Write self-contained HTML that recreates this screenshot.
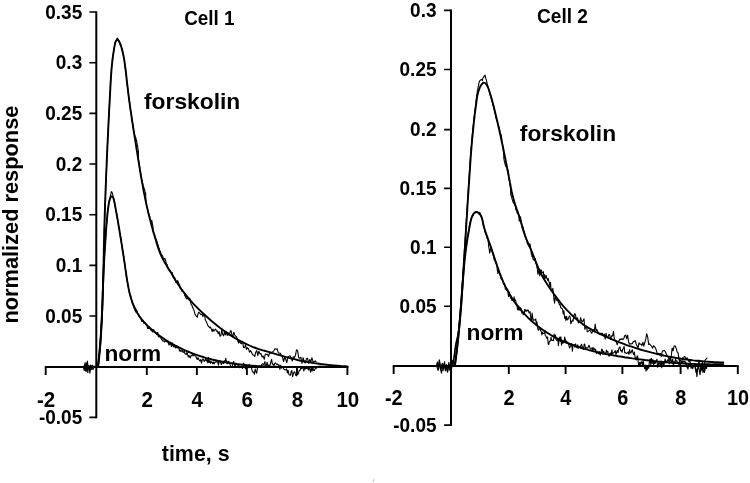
<!DOCTYPE html>
<html><head><meta charset="utf-8"><title>Figure</title>
<style>html,body{margin:0;padding:0;background:#fff}svg{display:block}</style></head>
<body>
<svg width="750" height="483" viewBox="0 0 750 483">
<rect width="750" height="483" fill="#fff"/>
<rect x="373" y="479" width="1" height="3" fill="#c8c8c8"/>
<g fill="none" stroke="#000" stroke-width="1.8" stroke-linecap="butt">
<path stroke-width="2" d="M44.8,367.0 H348.3 M96.3,11.2 V418.2"/>
<path stroke-width="1.9" d="M45.7,367.0 v7.9 M146.8,367.0 v7.9 M196.85,367.0 v7.9 M246.9,367.0 v7.9 M297.0,367.0 v7.9 M347.4,367.0 v7.9 "/>
<path stroke-width="1.6" d="M96.3,12.05 h-6.9 M96.3,62.72 h-6.9 M96.3,113.39 h-6.9 M96.3,164.06 h-6.9 M96.3,214.73 h-6.9 M96.3,265.40 h-6.9 M96.3,316.07 h-6.9 M96.3,366.74 h-6.9 M96.3,417.41 h-6.9 "/>
<path stroke-width="2" d="M392.8,366.0 H738.7 M451.0,9.5 V425.9"/>
<path stroke-width="1.9" d="M393.65,366.0 v7.9 M508.8,366.0 v7.9 M565.6,366.0 v7.9 M622.4,366.0 v7.9 M680.6,366.0 v7.9 M737.8,366.0 v7.9 "/>
<path stroke-width="1.6" d="M451.0,10.40 h-6.9 M451.0,69.50 h-6.9 M451.0,129.60 h-6.9 M451.0,188.35 h-6.9 M451.0,247.30 h-6.9 M451.0,306.30 h-6.9 M451.0,365.90 h-6.9 M451.0,425.10 h-6.9 "/>
</g>
<g fill="none" stroke="#000" stroke-linejoin="round" stroke-linecap="round">
<path stroke-width="1.1" d="M83.3,367.0 L84.3,370.5 L85.1,362.5 L86.2,371.4 L87.3,361.0 L88.3,367.8 L89.0,365.5 L89.8,373.1 L91.0,367.3 L92.0,365.3 L93.0,369.6 L94.0,366.7 L94.8,366.1 L96.0,366.7 L97.2,366.5 L97.9,367.3 L98.0,365.6 L98.2,364.7 L98.3,363.6 L98.4,362.8 L98.5,361.6 L98.6,360.7 L98.8,358.8 L98.9,358.7 L99.0,357.1 L99.1,356.2 L99.2,355.0 L99.3,353.8 L99.4,352.9 L99.5,352.0 L99.6,350.6 L99.7,349.3 L99.8,348.4 L99.9,346.8 L100.0,345.3 L100.1,344.8 L100.2,343.4 L100.3,341.8 L100.4,341.1 L100.4,340.0 L100.5,338.8 L100.6,337.5 L100.7,336.9 L100.8,336.2 L100.8,334.8 L100.9,333.5 L101.0,332.9 L101.1,331.9 L101.1,330.3 L101.2,329.5 L101.3,328.4 L101.3,326.9 L101.4,325.7 L101.5,325.1 L101.5,324.0 L101.6,323.0 L101.6,321.2 L101.7,320.3 L101.8,319.0 L101.8,317.5 L101.9,317.2 L101.9,316.1 L102.0,314.5 L102.0,314.1 L102.1,312.8 L102.1,311.5 L102.2,310.1 L102.2,309.2 L102.3,307.5 L102.3,306.9 L102.4,305.8 L102.4,303.9 L102.5,303.5 L102.5,302.2 L102.5,301.5 L102.6,300.0 L102.6,299.0 L102.6,298.0 L102.7,296.5 L102.7,295.8 L102.8,294.6 L102.8,293.7 L102.8,292.3 L102.9,291.6 L102.9,290.2 L102.9,288.9 L103.0,288.0 L103.0,287.1 L103.0,286.2 L103.1,284.3 L103.1,283.8 L103.1,282.5 L103.1,281.2 L103.2,279.7 L103.2,279.3 L103.2,277.4 L103.3,277.0 L103.3,276.1 L103.3,274.0 L103.3,273.3 L103.4,271.9 L103.4,271.2 L103.4,270.5 L103.4,269.5 L103.5,267.1 L103.5,266.2 L103.5,265.3 L103.5,264.4 L103.6,263.1 L103.6,261.7 L103.6,260.8 L103.6,259.9 L103.6,258.8 L103.7,257.4 L103.7,256.8 L103.7,255.9 L103.7,254.4 L103.8,253.1 L103.8,251.7 L103.8,250.8 L103.8,250.1 L103.9,248.6 L103.9,247.2 L103.9,247.2 L103.9,245.6 L104.0,244.9 L104.0,243.1 L104.0,242.1 L104.0,240.7 L104.1,240.6 L104.1,239.9 L104.1,237.9 L104.2,236.5 L104.2,235.6 L104.2,233.9 L104.2,232.8 L104.3,231.6 L104.3,230.8 L104.3,230.0 L104.4,228.7 L104.4,228.0 L104.4,226.4 L104.4,225.6 L104.5,223.7 L104.5,222.8 L104.5,222.3 L104.6,220.6 L104.6,219.8 L104.6,218.8 L104.7,217.9 L104.7,216.7 L104.7,215.9 L104.8,214.6 L104.8,213.1 L104.9,211.9 L104.9,210.9 L104.9,209.5 L105.0,208.5 L105.0,207.4 L105.0,206.4 L105.1,205.2 L105.1,203.6 L105.1,203.2 L105.2,202.3 L105.2,201.7 L105.3,200.3 L105.3,198.8 L105.3,197.8 L105.4,197.5 L105.4,195.8 L105.5,195.1 L105.5,194.2 L105.5,192.0 L105.6,191.3 L105.6,190.1 L105.7,188.9 L105.7,187.7 L105.7,186.4 L105.8,185.1 L105.8,183.4 L105.9,182.7 L105.9,181.2 L106.0,180.4 L106.0,179.2 L106.1,178.5 L106.1,177.5 L106.1,176.3 L106.2,175.2 L106.2,174.3 L106.3,173.0 L106.3,172.1 L106.4,170.8 L106.4,170.0 L106.5,168.7 L106.5,167.6 L106.6,165.9 L106.6,165.5 L106.6,163.9 L106.7,162.7 L106.7,162.0 L106.8,160.6 L106.8,159.8 L106.9,158.4 L106.9,157.2 L107.0,156.0 L107.0,155.7 L107.1,154.2 L107.1,152.6 L107.2,151.8 L107.2,150.0 L107.3,150.0 L107.3,147.6 L107.4,147.2 L107.4,146.1 L107.5,144.5 L107.5,144.0 L107.6,143.3 L107.6,142.2 L107.7,140.9 L107.7,139.7 L107.8,138.3 L107.9,137.2 L107.9,135.9 L108.0,135.3 L108.0,133.7 L108.1,133.5 L108.1,132.1 L108.2,130.7 L108.2,129.9 L108.3,129.6 L108.3,128.0 L108.4,126.2 L108.4,125.5 L108.5,123.8 L108.5,122.6 L108.6,121.6 L108.7,119.7 L108.7,119.5 L108.8,118.0 L108.8,117.1 L108.9,115.6 L108.9,114.5 L109.0,113.4 L109.0,113.0 L109.1,112.0 L109.2,110.4 L109.2,109.5 L109.3,107.9 L109.3,106.1 L109.4,105.8 L109.4,104.8 L109.5,103.3 L109.6,102.5 L109.6,101.5 L109.7,99.9 L109.7,98.4 L109.8,97.8 L109.8,97.0 L109.9,96.0 L110.0,95.4 L110.0,94.5 L110.1,92.8 L110.1,91.9 L110.2,90.7 L110.3,89.5 L110.3,88.6 L110.4,86.9 L110.4,86.4 L110.5,85.9 L110.6,84.4 L110.6,82.9 L110.7,82.3 L110.7,81.2 L110.8,79.6 L110.9,78.2 L111.0,77.6 L111.0,75.5 L111.1,75.2 L111.2,74.0 L111.3,72.5 L111.4,72.4 L111.4,71.0 L111.5,69.4 L111.6,68.8 L111.7,67.2 L111.8,65.6 L111.9,65.0 L112.1,64.0 L112.2,63.1 L112.3,61.8 L112.4,60.6 L112.5,59.4 L112.7,58.1 L112.8,57.3 L113.0,55.7 L113.1,54.4 L113.3,53.7 L113.5,52.0 L113.6,51.1 L113.8,51.0 L114.0,49.6 L114.2,48.1 L114.4,47.1 L114.6,45.7 L114.8,44.6 L115.1,43.2 L115.3,42.4 L115.7,40.7 L116.2,40.6 L116.8,39.0 L117.5,38.2 L118.1,39.2 L118.6,40.2 L119.1,41.4 L119.6,41.7 L120.0,43.1 L120.4,45.3 L120.8,44.3 L121.2,46.2 L121.5,47.3 L121.8,48.5 L122.1,48.7 L122.4,50.1 L122.7,51.9 L122.9,52.8 L123.2,54.9 L123.4,55.2 L123.6,56.6 L123.8,58.8 L124.0,58.4 L124.2,59.2 L124.4,60.8 L124.5,61.9 L124.7,63.6 L124.8,64.4 L125.0,64.9 L125.1,66.0 L125.3,68.4 L125.4,69.0 L125.6,68.4 L125.7,70.6 L125.8,71.7 L126.0,73.3 L126.1,73.7 L126.2,75.6 L126.4,76.6 L126.5,77.9 L126.6,78.6 L126.7,79.9 L126.9,81.5 L127.0,82.8 L127.1,83.4 L127.2,84.1 L127.4,86.1 L127.5,86.4 L127.6,87.6 L127.7,88.5 L127.9,89.5 L128.0,90.6 L128.1,91.0 L128.3,93.8 L128.4,94.7 L128.5,95.5 L128.7,96.8 L128.8,97.4 L129.0,98.4 L129.1,98.4 L129.3,100.4 L129.4,102.0 L129.6,103.6 L129.7,104.8 L129.9,105.6 L130.0,105.7 L130.2,106.4 L130.3,108.8 L130.5,109.7 L130.6,111.1 L130.8,111.8 L131.0,113.0 L131.1,113.0 L131.3,115.0 L131.5,115.8 L131.6,117.3 L131.8,118.5 L131.9,119.6 L132.1,120.8 L132.3,121.8 L132.5,123.1 L132.6,123.9 L132.8,124.8 L133.0,125.6 L133.1,127.8 L133.3,128.2 L133.5,130.0 L133.7,130.7 L134.0,131.7 L134.3,132.9 L134.6,134.4 L134.9,135.8 L135.3,136.9 L135.6,137.1 L135.9,138.3 L136.2,139.5 L136.4,141.1 L136.7,140.6 L136.9,142.9 L137.1,143.5 L137.3,145.3 L137.6,146.0 L137.8,147.5 L138.0,149.5 L138.2,150.1 L138.4,151.1 L138.4,152.1 L138.4,152.4 L138.4,153.8 L138.4,154.5 L138.5,155.4 L138.5,156.8 L138.5,157.8 L138.5,159.8 L138.6,160.6 L138.8,161.6 L138.9,163.6 L139.1,164.4 L139.2,165.4 L139.4,166.1 L139.6,166.7 L139.7,167.7 L139.9,169.1 L140.1,170.9 L140.2,171.4 L140.4,171.7 L140.6,173.5 L140.8,173.8 L141.0,175.5 L141.2,176.0 L141.4,177.2 L141.7,179.1 L141.9,179.9 L142.1,180.3 L142.4,182.7 L142.6,184.4 L142.9,183.8 L143.2,186.7 L143.6,186.4 L143.9,187.8 L144.3,189.0 L144.7,189.4 L145.0,192.0 L145.4,192.7 L145.7,192.9 L145.7,194.2 L145.7,194.8 L145.7,196.4 L145.7,197.9 L145.8,197.6 L145.8,199.4 L146.0,200.8 L146.2,202.5 L146.4,204.5 L146.6,204.9 L146.8,206.0 L147.0,207.7 L147.3,208.0 L147.5,208.9 L147.7,210.6 L147.9,211.8 L148.2,212.0 L148.4,213.1 L148.7,214.4 L148.9,214.1 L149.3,216.2 L149.7,216.7 L150.2,219.5 L150.6,219.9 L151.0,220.4 L151.4,221.2 L151.9,220.7 L152.3,223.6 L152.7,225.2 L152.8,225.2 L152.9,227.2 L153.0,228.6 L153.1,228.6 L153.2,230.9 L153.3,232.4 L153.5,232.6 L153.9,233.3 L154.2,234.7 L154.6,234.3 L154.9,236.3 L155.2,238.5 L155.6,237.8 L155.9,240.4 L156.3,240.6 L156.6,240.0 L157.0,242.3 L157.3,242.8 L157.7,245.1 L158.1,244.9 L158.6,248.5 L159.1,248.0 L159.5,250.6 L160.0,250.7 L160.5,252.2 L161.1,254.3 L161.6,254.9 L162.2,255.3 L162.7,255.8 L163.1,258.8 L163.5,258.9 L164.0,258.1 L164.5,259.1 L165.0,258.7 L165.4,259.8 L165.9,261.3 L166.3,264.1 L166.7,264.9 L167.2,264.5 L167.6,267.0 L168.0,267.5 L168.5,268.1 L168.9,269.8 L169.4,269.3 L170.0,270.1 L170.6,272.2 L171.2,272.1 L171.8,274.1 L172.3,272.6 L172.9,276.7 L173.5,275.9 L174.1,277.9 L174.7,277.5 L175.3,280.9 L175.9,282.7 L176.5,281.7 L177.1,282.4 L177.7,280.6 L178.3,282.2 L178.9,284.0 L179.6,284.7 L180.2,288.6 L180.8,288.3 L181.5,289.7 L182.1,291.6 L182.8,290.6 L183.4,292.0 L184.1,292.6 L184.8,295.6 L185.4,296.5 L186.1,298.1 L186.8,299.0 L187.5,296.7 L188.3,298.4 L189.0,299.9 L189.7,298.2 L190.4,301.5 L191.2,304.6 L191.9,305.3 L192.7,307.6 L193.4,309.1 L194.2,310.9 L195.0,314.5 L195.7,315.0 L196.5,316.4 L197.3,317.1 L198.1,313.3 L198.9,312.2 L199.7,313.1 L200.5,314.5 L201.3,314.3 L202.1,314.5 L202.9,316.6 L203.7,313.8 L204.6,315.9 L205.4,320.2 L206.2,321.5 L207.1,323.4 L207.9,325.7 L208.7,326.5 L209.6,327.8 L210.4,327.0 L211.3,328.9 L212.1,331.7 L213.0,329.0 L213.8,331.2 L214.7,329.8 L215.6,329.0 L216.5,331.2 L217.3,330.8 L218.2,333.7 L219.1,331.5 L220.0,336.3 L220.9,335.3 L221.8,329.8 L222.7,334.4 L223.6,335.8 L224.5,332.0 L225.4,334.9 L226.3,331.5 L227.2,335.5 L228.1,332.5 L229.1,335.7 L230.0,332.1 L230.9,330.4 L231.9,334.6 L232.8,336.7 L233.8,332.2 L234.7,335.0 L235.7,336.2 L236.6,337.0 L237.6,340.3 L238.6,343.1 L239.5,340.7 L240.5,343.3 L241.5,343.7 L242.5,341.4 L243.5,347.3 L244.5,347.8 L245.5,344.7 L246.5,349.4 L247.5,347.7 L248.5,348.9 L249.5,352.2 L250.5,350.6 L251.6,352.5 L252.6,354.7 L253.6,355.0 L254.7,356.5 L255.7,352.3 L256.8,350.6 L257.8,355.6 L258.9,351.2 L260.0,353.9 L261.0,353.6 L262.1,357.0 L263.2,356.0 L264.3,359.3 L265.3,354.0 L266.4,354.5 L267.5,354.2 L268.6,356.4 L269.7,352.1 L270.7,353.5 L271.8,352.3 L272.9,351.7 L274.0,350.6 L275.0,348.8 L276.1,349.2 L277.2,348.8 L278.3,352.7 L279.3,353.3 L280.4,353.3 L281.5,355.5 L282.5,357.2 L283.6,361.5 L284.7,357.0 L285.7,359.3 L286.8,362.7 L287.9,356.7 L289.0,356.3 L290.0,355.8 L291.1,357.7 L292.2,361.0 L293.3,356.7 L294.4,357.6 L295.4,355.6 L296.5,349.8 L297.6,350.7 L298.7,357.8 L299.8,358.2 L300.9,357.3 L302.0,363.4 L303.1,357.7 L304.2,362.2 L305.3,363.0 L306.4,358.8 L307.5,358.2 L308.6,363.1 L309.7,359.5 L310.8,361.8 L311.9,357.7 L313.0,361.7 L314.1,361.8 L315.2,360.8 L316.3,362.1"/>
<path stroke-width="1.1" d="M83.8,367.0 L84.6,364.6 L85.6,371.0 L86.6,363.1 L87.8,372.6 L88.8,365.6 L89.6,370.3 L90.6,365.0 L91.6,369.4 L92.6,365.2 L93.6,367.4 L94.8,366.6 L96.0,367.1 L97.2,366.5 L98.0,366.9 L98.1,365.8 L98.2,365.0 L98.3,364.5 L98.4,364.0 L98.5,362.8 L98.6,362.2 L98.6,361.5 L98.7,361.1 L98.8,360.2 L98.9,359.6 L99.0,359.5 L99.1,358.2 L99.1,357.7 L99.2,356.4 L99.3,356.2 L99.4,355.1 L99.4,354.4 L99.5,353.7 L99.6,352.7 L99.7,352.0 L99.7,351.3 L99.8,351.1 L99.9,350.2 L99.9,348.9 L100.0,348.7 L100.0,347.6 L100.1,347.1 L100.2,346.1 L100.2,345.0 L100.3,344.8 L100.3,344.1 L100.4,342.9 L100.5,342.1 L100.5,341.8 L100.6,341.0 L100.6,340.3 L100.7,339.7 L100.7,339.2 L100.8,337.9 L100.8,337.7 L100.9,336.8 L100.9,335.7 L101.0,334.6 L101.0,334.8 L101.1,333.9 L101.1,333.8 L101.1,332.8 L101.2,331.7 L101.2,331.3 L101.3,329.8 L101.3,329.4 L101.4,328.5 L101.4,328.2 L101.4,327.1 L101.5,325.2 L101.5,325.8 L101.5,324.3 L101.6,324.3 L101.6,323.1 L101.6,322.6 L101.7,322.1 L101.7,321.3 L101.8,320.2 L101.8,320.3 L101.8,319.4 L101.8,318.6 L101.9,318.1 L101.9,316.9 L101.9,316.7 L102.0,315.4 L102.0,314.7 L102.0,314.0 L102.1,313.0 L102.1,312.2 L102.1,311.9 L102.1,311.1 L102.2,310.5 L102.2,309.4 L102.2,308.2 L102.3,307.9 L102.3,307.2 L102.3,306.6 L102.3,305.7 L102.4,304.3 L102.4,304.2 L102.4,302.9 L102.4,302.5 L102.5,301.2 L102.5,301.2 L102.5,300.0 L102.5,300.1 L102.6,299.6 L102.6,298.7 L102.6,297.0 L102.6,296.5 L102.7,295.6 L102.7,295.3 L102.7,294.5 L102.7,294.0 L102.8,293.2 L102.8,292.4 L102.8,291.9 L102.8,291.5 L102.9,290.0 L102.9,289.6 L102.9,288.3 L102.9,287.6 L103.0,287.1 L103.0,286.2 L103.0,285.7 L103.0,285.2 L103.1,283.9 L103.1,283.1 L103.1,282.4 L103.2,281.9 L103.2,281.0 L103.2,280.7 L103.2,280.0 L103.3,279.3 L103.3,278.6 L103.3,277.5 L103.4,276.8 L103.4,276.4 L103.4,275.1 L103.5,274.9 L103.5,273.8 L103.5,272.9 L103.6,272.2 L103.6,271.3 L103.6,270.7 L103.7,270.1 L103.7,269.2 L103.7,269.0 L103.8,267.7 L103.8,267.2 L103.9,266.0 L103.9,265.6 L103.9,264.5 L104.0,264.2 L104.0,264.2 L104.1,263.0 L104.1,262.1 L104.1,261.2 L104.2,260.4 L104.2,259.0 L104.3,258.3 L104.3,258.2 L104.3,257.4 L104.4,256.4 L104.4,255.6 L104.5,254.9 L104.5,254.1 L104.6,253.2 L104.6,252.3 L104.7,252.2 L104.7,250.9 L104.8,250.4 L104.8,249.8 L104.9,249.0 L104.9,248.5 L104.9,247.5 L105.0,247.1 L105.0,245.9 L105.1,245.1 L105.1,244.9 L105.2,244.0 L105.2,242.6 L105.3,242.1 L105.3,241.4 L105.4,240.7 L105.4,240.6 L105.5,239.5 L105.5,239.1 L105.6,238.3 L105.6,237.4 L105.7,236.2 L105.7,236.2 L105.8,235.4 L105.8,234.5 L105.9,233.7 L105.9,232.9 L106.0,231.9 L106.0,231.5 L106.1,230.0 L106.1,229.8 L106.2,228.7 L106.2,228.3 L106.3,228.0 L106.3,227.1 L106.4,226.4 L106.4,225.9 L106.5,224.5 L106.6,223.7 L106.6,222.8 L106.7,222.6 L106.7,221.5 L106.8,221.1 L106.9,219.9 L106.9,220.0 L107.0,218.8 L107.1,218.7 L107.1,217.4 L107.2,217.5 L107.3,215.3 L107.4,215.5 L107.4,214.6 L107.5,212.9 L107.6,212.9 L107.7,212.6 L107.7,211.8 L107.8,210.5 L107.9,210.2 L108.0,209.4 L108.1,208.8 L108.2,208.0 L108.3,208.1 L108.4,206.6 L108.5,205.7 L108.6,204.8 L108.7,204.6 L108.8,203.6 L108.9,202.4 L109.1,202.3 L109.3,200.7 L109.5,200.3 L109.7,199.4 L109.9,198.4 L110.2,196.5 L110.5,195.4 L110.8,194.2 L111.2,192.2 L111.7,191.7 L112.2,192.9 L112.6,194.1 L113.0,195.8 L113.3,197.8 L113.6,198.4 L113.8,199.8 L114.0,199.1 L114.1,200.2 L114.3,201.6 L114.4,202.4 L114.6,202.9 L114.7,204.1 L114.8,205.1 L115.0,205.6 L115.1,206.8 L115.3,207.1 L115.4,207.9 L115.6,208.9 L115.7,209.7 L115.8,209.1 L116.0,210.4 L116.1,211.4 L116.2,211.1 L116.4,211.7 L116.5,213.3 L116.6,213.7 L116.8,214.4 L116.9,215.1 L117.0,215.5 L117.1,218.3 L117.3,217.2 L117.4,218.2 L117.5,218.7 L117.7,220.0 L117.8,221.4 L117.9,221.2 L118.0,222.3 L118.2,222.5 L118.3,224.4 L118.4,224.2 L118.5,224.6 L118.7,226.2 L118.8,226.2 L118.9,227.4 L119.0,228.1 L119.1,228.8 L119.3,229.5 L119.4,230.1 L119.5,230.5 L119.6,232.6 L119.7,232.9 L119.9,233.6 L120.0,233.6 L120.1,233.5 L120.2,234.3 L120.3,236.2 L120.5,236.2 L120.6,237.2 L120.7,237.2 L120.8,238.4 L120.9,239.0 L121.1,239.7 L121.2,240.8 L121.3,241.6 L121.4,242.4 L121.5,243.4 L121.6,244.5 L121.8,245.1 L121.9,246.6 L122.0,246.4 L122.1,247.0 L122.2,247.1 L122.3,248.5 L122.4,248.5 L122.6,249.2 L122.7,250.5 L122.8,251.8 L122.9,251.6 L123.0,253.1 L123.1,253.1 L123.2,253.0 L123.3,254.6 L123.5,256.5 L123.6,256.2 L123.7,256.6 L123.8,258.3 L123.9,259.4 L124.0,260.2 L124.1,260.1 L124.2,261.3 L124.4,262.0 L124.5,263.2 L124.6,264.2 L124.7,263.8 L124.8,265.1 L124.9,265.1 L125.0,266.4 L125.1,266.1 L125.2,267.2 L125.3,268.5 L125.4,268.9 L125.6,270.7 L125.7,270.8 L125.8,271.6 L125.9,272.7 L126.0,273.2 L126.1,274.0 L126.2,275.2 L126.3,277.1 L126.4,275.4 L126.5,276.9 L126.7,277.2 L126.8,277.8 L126.9,279.3 L127.0,279.2 L127.1,280.4 L127.2,281.9 L127.4,280.9 L127.5,282.7 L127.6,283.8 L127.7,283.4 L127.9,285.0 L128.0,285.3 L128.1,285.7 L128.3,286.9 L128.4,286.5 L128.6,288.3 L128.7,288.9 L128.9,289.4 L129.0,290.8 L129.2,291.7 L129.4,293.2 L129.5,292.5 L129.7,293.6 L129.9,294.2 L130.1,295.8 L130.3,294.8 L130.5,296.5 L130.7,295.9 L130.9,297.9 L131.1,298.1 L131.3,299.3 L131.5,299.7 L131.7,299.8 L132.0,300.9 L132.2,303.3 L132.5,303.4 L132.7,303.7 L133.0,305.1 L133.2,304.5 L133.5,305.1 L133.8,305.4 L134.1,307.3 L134.4,308.9 L134.7,308.1 L135.0,309.7 L135.3,310.7 L135.6,312.0 L136.0,309.4 L136.3,311.5 L136.7,312.0 L137.0,310.8 L137.4,313.0 L137.8,313.4 L138.1,314.5 L138.5,314.4 L138.9,315.9 L139.4,315.8 L139.8,317.4 L140.2,317.6 L140.6,318.4 L141.1,318.4 L141.5,321.0 L142.0,321.4 L142.5,321.5 L143.0,320.7 L143.4,321.3 L143.9,323.3 L144.4,322.7 L144.9,322.5 L145.4,323.6 L146.0,324.6 L146.5,325.1 L147.0,325.5 L147.5,328.3 L148.1,328.4 L148.6,328.4 L149.2,327.6 L149.7,328.4 L150.3,329.1 L150.8,330.2 L151.4,329.7 L151.9,331.1 L152.5,331.8 L153.1,331.0 L153.7,329.5 L154.2,331.6 L154.8,331.9 L155.4,332.7 L156.0,333.5 L156.6,334.6 L157.2,332.8 L157.8,332.5 L158.4,336.8 L159.0,335.7 L159.6,336.4 L160.2,337.8 L160.8,337.1 L161.5,339.5 L162.1,339.7 L162.7,340.9 L163.3,340.8 L163.9,341.1 L164.6,342.0 L165.2,340.7 L165.8,341.3 L166.5,341.6 L167.1,340.6 L167.8,342.4 L168.4,343.2 L169.0,345.0 L169.7,344.2 L170.3,342.2 L171.0,345.2 L171.6,346.6 L172.3,342.9 L173.0,345.2 L173.6,346.9 L174.3,345.3 L174.9,346.9 L175.6,348.0 L176.2,345.9 L176.9,347.7 L177.6,347.9 L178.2,346.5 L178.9,348.5 L179.6,351.0 L180.2,350.1 L180.9,351.5 L181.6,351.1 L182.2,350.5 L182.9,352.2 L183.6,352.3 L184.3,351.0 L184.9,353.7 L185.6,354.1 L186.3,354.5 L187.0,352.1 L187.7,354.5 L188.3,357.0 L189.0,355.4 L189.7,357.1 L190.4,357.9 L191.1,355.4 L191.8,355.4 L192.4,354.7 L193.1,355.9 L193.8,354.6 L194.5,354.6 L195.2,355.9 L195.9,356.3 L196.6,358.4 L197.3,359.5 L198.0,357.6 L198.7,359.0 L199.4,360.5 L200.1,361.0 L200.8,359.5 L201.5,363.1 L202.2,360.4 L202.9,358.8 L203.6,360.1 L204.3,361.5 L205.0,360.6 L205.7,357.8 L206.4,361.0 L207.1,359.8 L207.8,363.0 L208.5,357.2 L209.2,362.6 L209.9,360.6 L210.6,363.3 L211.4,361.6 L212.1,362.3 L212.8,363.9 L213.5,361.9 L214.2,363.8 L214.9,362.5 L215.6,362.0 L216.4,361.9 L217.1,361.7 L217.8,362.4 L218.5,365.2 L219.2,361.7 L219.9,360.4 L220.7,362.8 L221.4,364.6 L222.1,362.3 L222.8,363.1 L223.6,363.6 L224.3,360.8 L225.0,362.0 L225.7,358.3 L226.5,361.1 L227.2,363.9 L227.9,361.5 L228.6,361.3 L229.4,362.2 L230.1,364.9 L230.8,366.3 L231.6,367.4 L232.3,366.1 L233.0,362.8 L233.7,361.6 L234.5,365.2 L235.2,367.4 L235.9,363.0 L236.7,364.4 L237.4,364.7 L238.2,365.5 L238.9,365.6 L239.6,367.7 L240.4,367.3 L241.1,366.0 L241.8,366.8 L242.6,368.5 L243.3,363.3 L244.0,363.8 L244.8,366.5 L245.5,368.9 L246.3,366.2 L247.0,367.9 L247.7,366.2 L248.5,367.7 L249.2,364.4 L250.0,366.2 L250.7,366.7 L251.5,368.0 L252.2,371.2 L252.9,372.3 L253.7,372.0 L254.4,374.3 L255.2,369.1 L255.9,371.4 L256.7,373.2 L257.4,368.4 L258.2,367.3 L258.9,366.0 L259.6,367.5 L260.4,366.2 L261.1,366.2 L261.9,364.3 L262.6,363.7 L263.4,364.4 L264.1,364.0 L264.9,361.6 L265.6,367.5 L266.4,364.9 L267.1,362.2 L267.9,365.9 L268.6,365.1 L269.4,365.5 L270.1,365.1 L270.9,361.9 L271.6,359.4 L272.4,364.2 L273.1,364.1 L273.9,365.8 L274.6,363.7 L275.4,362.9 L276.1,363.9 L276.9,364.4 L277.6,364.0 L278.4,365.3 L279.1,364.9 L279.9,369.5 L280.6,365.2 L281.4,368.1 L282.1,367.3 L282.9,367.3 L283.6,368.8 L284.4,369.6 L285.1,369.9 L285.9,369.8 L286.6,368.8 L287.4,372.9 L288.1,370.2 L288.9,374.5 L289.6,374.9 L290.4,375.3 L291.1,371.5 L291.9,370.6 L292.6,376.7 L293.4,374.2 L294.1,371.8 L294.9,372.0 L295.6,375.0 L296.4,375.8 L297.1,374.1 L297.9,374.7 L298.6,372.6 L299.4,370.3 L300.1,370.3 L300.9,367.2 L301.6,368.7 L302.4,366.9 L303.1,368.4 L303.9,371.0 L304.6,368.0 L305.4,369.0 L306.1,367.8 L306.9,368.5 L307.6,367.1 L308.4,370.0 L309.1,368.2 L309.8,369.1 L310.6,372.2 L311.3,366.7 L312.1,371.2 L312.8,367.3 L313.6,370.4 L314.3,370.5 L315.1,368.7 L315.8,368.1 L316.6,368.3"/>
<path stroke-width="1.1" d="M436.2,366.0 L437.5,361.9 L438.6,369.2 L439.6,360.9 L440.8,369.7 L441.9,363.8 L443.0,371.0 L444.2,363.6 L445.3,370.5 L446.4,364.8 L447.4,372.0 L448.6,364.4 L449.6,370.2 L450.6,363.5 L451.6,369.1 L452.4,361.0 L453.0,365.0 L452.4,365.8 L452.6,364.7 L452.7,364.3 L452.9,363.2 L453.0,362.0 L453.2,361.5 L453.3,360.0 L453.5,358.9 L453.6,358.2 L453.8,357.4 L453.9,356.1 L454.1,355.3 L454.2,354.2 L454.4,353.3 L454.5,352.5 L454.6,350.6 L454.8,349.9 L454.9,348.8 L455.0,348.1 L455.2,347.3 L455.3,345.9 L455.4,344.9 L455.7,344.2 L455.9,342.6 L456.1,341.8 L456.3,341.0 L456.5,340.3 L456.7,339.4 L456.9,338.3 L457.2,338.1 L457.4,336.4 L457.6,335.4 L457.8,334.9 L458.0,333.5 L458.2,332.3 L458.4,331.2 L458.6,330.2 L458.7,328.7 L458.8,328.2 L458.9,326.7 L459.0,326.2 L459.1,324.8 L459.2,323.9 L459.2,322.7 L459.3,322.4 L459.4,320.7 L459.5,319.9 L459.6,318.7 L459.7,317.8 L459.8,317.0 L459.9,315.9 L459.9,315.4 L460.0,313.6 L460.1,313.5 L460.2,313.1 L460.3,311.0 L460.3,310.2 L460.4,308.7 L460.5,308.0 L460.6,306.2 L460.6,306.0 L460.7,304.7 L460.8,303.3 L460.9,302.5 L461.0,301.6 L461.0,301.2 L461.1,300.7 L461.2,299.4 L461.2,298.1 L461.3,297.1 L461.4,296.3 L461.5,294.5 L461.5,294.4 L461.6,293.4 L461.7,291.4 L461.7,291.6 L461.8,289.6 L461.9,289.1 L462.0,288.7 L462.0,286.8 L462.1,285.9 L462.2,284.9 L462.2,283.8 L462.3,282.9 L462.4,281.8 L462.4,280.8 L462.5,279.9 L462.6,279.1 L462.6,278.2 L462.7,277.4 L462.8,276.4 L462.8,274.9 L462.9,274.8 L463.0,272.4 L463.0,272.3 L463.1,270.6 L463.2,270.1 L463.2,269.1 L463.3,268.2 L463.4,267.5 L463.4,265.8 L463.5,266.2 L463.5,264.4 L463.6,263.1 L463.7,261.7 L463.7,261.8 L463.8,260.6 L463.9,259.1 L463.9,258.2 L464.0,257.7 L464.1,256.3 L464.1,255.1 L464.2,254.0 L464.3,253.4 L464.3,252.0 L464.4,250.6 L464.4,250.3 L464.5,248.5 L464.6,247.9 L464.6,247.7 L464.7,246.4 L464.8,245.1 L464.8,244.0 L464.9,243.4 L465.0,242.0 L465.0,240.3 L465.1,240.1 L465.1,238.0 L465.2,237.2 L465.3,237.4 L465.3,236.0 L465.4,234.6 L465.5,233.6 L465.5,232.8 L465.6,232.2 L465.6,230.6 L465.7,229.3 L465.8,228.3 L465.8,227.6 L465.9,226.8 L466.0,225.7 L466.0,225.6 L466.1,224.1 L466.1,223.4 L466.2,222.1 L466.3,221.0 L466.3,220.5 L466.4,218.8 L466.5,217.6 L466.5,217.0 L466.6,215.4 L466.6,214.8 L466.7,214.2 L466.8,213.0 L466.8,211.2 L466.9,210.7 L467.0,210.8 L467.0,208.9 L467.1,208.6 L467.1,207.8 L467.2,205.7 L467.3,205.8 L467.3,204.7 L467.4,203.8 L467.5,203.1 L467.5,201.7 L467.6,200.2 L467.7,199.4 L467.7,198.1 L467.8,197.4 L467.8,195.5 L467.9,196.2 L468.0,194.3 L468.0,193.7 L468.1,192.5 L468.2,191.4 L468.2,190.2 L468.3,189.0 L468.4,187.6 L468.4,187.1 L468.5,186.9 L468.5,185.0 L468.6,184.0 L468.7,184.0 L468.7,182.5 L468.8,181.4 L468.9,179.9 L468.9,178.9 L469.0,178.4 L469.1,177.4 L469.1,176.1 L469.2,174.5 L469.3,173.9 L469.3,172.5 L469.4,172.6 L469.5,171.0 L469.5,170.0 L469.6,169.0 L469.7,168.0 L469.7,167.0 L469.8,165.4 L469.9,164.3 L469.9,164.7 L470.0,162.4 L470.1,161.7 L470.2,160.3 L470.2,159.2 L470.3,158.4 L470.4,157.8 L470.4,156.1 L470.5,155.9 L470.6,154.7 L470.7,154.3 L470.7,152.3 L470.8,151.8 L470.9,151.0 L471.0,149.0 L471.1,148.6 L471.1,147.7 L471.2,146.5 L471.3,146.0 L471.4,145.7 L471.5,144.9 L471.6,143.6 L471.6,142.5 L471.7,141.6 L471.8,140.7 L471.9,139.3 L472.0,138.2 L472.1,137.5 L472.2,135.3 L472.3,134.6 L472.4,133.3 L472.5,133.7 L472.6,131.7 L472.7,131.5 L472.8,130.5 L472.9,128.4 L473.0,127.7 L473.1,126.7 L473.2,126.0 L473.3,124.3 L473.4,124.3 L473.5,123.6 L473.6,122.4 L473.7,121.6 L473.8,120.9 L473.9,119.3 L474.0,117.9 L474.2,116.6 L474.3,116.1 L474.4,114.9 L474.5,114.3 L474.6,113.2 L474.8,112.7 L474.9,110.8 L475.0,110.2 L475.1,109.3 L475.3,108.5 L475.4,107.7 L475.5,106.3 L475.7,105.5 L475.8,104.6 L476.0,102.6 L476.1,100.5 L476.3,99.2 L476.4,98.8 L476.5,97.0 L476.7,96.1 L476.9,94.7 L477.0,94.2 L477.2,92.7 L477.4,90.6 L477.6,90.2 L477.9,88.6 L478.2,86.6 L478.5,86.0 L478.8,83.6 L479.2,82.0 L479.6,81.1 L480.0,80.5 L480.5,80.1 L481.0,79.6 L481.6,79.4 L482.3,80.5 L482.9,78.2 L483.6,77.1 L484.4,75.9 L485.1,75.2 L485.7,78.2 L486.3,79.6 L486.8,81.9 L487.3,84.3 L487.7,86.1 L488.1,86.9 L488.4,87.6 L488.7,89.9 L489.1,91.3 L489.4,92.0 L489.7,93.1 L490.0,94.2 L490.3,95.6 L490.6,96.6 L490.9,96.6 L491.2,98.0 L491.5,99.8 L491.7,100.2 L492.0,100.7 L492.3,102.1 L492.5,103.3 L492.8,104.5 L493.0,104.2 L493.3,106.3 L493.5,106.5 L493.8,108.1 L494.0,109.7 L494.3,109.7 L494.5,110.7 L494.7,112.1 L495.0,113.5 L495.2,113.7 L495.4,114.2 L495.6,115.4 L495.9,117.1 L496.1,118.6 L496.3,118.2 L496.5,119.4 L496.8,120.5 L497.1,121.0 L497.4,121.3 L497.7,122.9 L497.9,124.1 L498.2,124.9 L498.5,126.4 L498.8,126.6 L499.1,127.5 L499.4,128.4 L499.7,130.7 L499.9,131.9 L500.2,132.3 L500.5,134.2 L500.8,134.0 L501.0,134.8 L501.2,134.8 L501.4,136.7 L501.5,137.4 L501.7,138.7 L501.9,140.6 L502.0,141.4 L502.2,141.8 L502.3,143.4 L502.5,144.5 L502.6,145.1 L502.8,146.5 L503.0,147.1 L503.1,148.0 L503.3,150.5 L503.4,151.4 L503.5,151.4 L503.6,151.5 L503.6,153.1 L503.7,154.8 L503.8,155.9 L503.8,158.5 L503.9,157.5 L504.0,158.6 L504.0,159.0 L504.1,160.3 L504.3,161.0 L504.6,161.9 L505.0,164.2 L505.3,164.5 L505.6,166.1 L505.9,164.6 L506.2,166.0 L506.5,167.7 L506.8,166.2 L507.1,167.5 L507.4,170.6 L507.6,170.8 L507.8,169.7 L508.0,171.8 L508.2,172.8 L508.4,174.6 L508.6,177.6 L508.8,177.0 L509.0,180.1 L509.2,178.6 L509.4,179.2 L509.6,182.6 L509.8,183.1 L510.0,184.7 L510.2,186.5 L510.3,186.1 L510.4,186.7 L510.4,184.6 L510.4,186.6 L510.5,188.7 L510.5,189.9 L510.6,191.3 L510.7,191.0 L510.7,193.7 L510.8,195.2 L510.9,194.4 L511.3,195.9 L511.7,197.1 L512.0,198.7 L512.4,200.0 L512.8,201.0 L513.2,202.7 L513.6,203.1 L514.1,201.6 L514.5,204.4 L514.9,204.9 L515.3,206.4 L515.6,206.8 L515.9,209.5 L516.2,210.3 L516.6,209.5 L516.9,211.9 L517.2,212.9 L517.6,213.3 L517.9,212.1 L518.2,213.2 L518.5,215.1 L518.9,214.9 L519.2,221.2 L519.5,217.9 L519.8,217.7 L520.1,220.0 L520.4,218.8 L520.6,216.8 L520.9,220.5 L521.2,221.2 L521.5,224.0 L521.7,224.1 L522.0,226.1 L522.3,228.2 L522.5,227.9 L522.8,226.2 L523.1,227.6 L523.4,228.5 L523.7,230.6 L524.0,231.8 L524.3,231.7 L524.6,235.7 L525.0,234.1 L525.3,236.7 L525.7,236.1 L526.1,239.0 L526.5,239.9 L526.9,240.9 L527.3,243.4 L527.7,244.4 L528.1,244.7 L528.5,245.4 L528.9,244.2 L529.3,246.9 L529.7,243.7 L530.1,244.1 L530.5,247.3 L530.9,249.7 L531.3,253.9 L531.7,254.5 L532.0,256.7 L532.4,255.4 L532.8,257.7 L533.2,259.8 L533.5,259.7 L533.9,260.0 L534.3,260.6 L534.6,258.7 L535.0,259.7 L535.4,258.6 L535.7,263.1 L536.1,263.9 L536.5,264.6 L536.9,267.7 L537.2,267.6 L537.6,271.8 L538.0,274.3 L538.4,272.3 L538.8,270.2 L539.3,269.1 L539.7,275.8 L540.1,273.3 L540.6,269.9 L541.0,274.3 L541.5,270.0 L541.9,273.3 L542.4,272.5 L542.9,272.5 L543.4,271.7 L543.9,279.2 L544.4,274.6 L545.0,278.1 L545.5,278.1 L546.0,275.2 L546.6,277.6 L547.1,278.8 L547.7,280.4 L548.2,278.3 L548.8,281.4 L549.4,282.5 L549.9,286.7 L550.5,282.4 L551.1,290.8 L551.7,290.2 L552.2,291.0 L552.8,288.3 L553.4,293.6 L554.0,299.6 L554.6,303.2 L555.2,297.0 L555.8,296.6 L556.4,299.9 L557.0,300.5 L557.6,299.9 L558.2,301.8 L558.8,303.1 L559.4,304.8 L560.0,304.2 L560.7,307.7 L561.3,308.0 L562.0,308.5 L562.6,309.2 L563.2,313.9 L563.9,310.7 L564.6,318.3 L565.2,316.2 L565.9,320.4 L566.6,316.3 L567.3,319.9 L568.0,319.3 L568.7,317.6 L569.4,315.9 L570.1,316.8 L570.8,323.8 L571.5,322.3 L572.3,320.1 L573.0,321.1 L573.7,317.0 L574.5,313.7 L575.2,314.1 L576.0,317.2 L576.8,319.0 L577.6,317.9 L578.3,322.9 L579.1,321.7 L579.9,321.7 L580.7,317.5 L581.5,321.0 L582.3,321.7 L583.2,320.6 L584.0,318.8 L584.8,329.2 L585.7,327.3 L586.5,326.5 L587.3,331.8 L588.2,331.3 L589.1,330.6 L589.9,330.2 L590.8,331.7 L591.7,333.2 L592.5,331.6 L593.4,329.5 L594.3,331.8 L595.2,324.1 L596.1,330.8 L597.0,329.7 L597.9,332.0 L598.8,332.7 L599.7,334.3 L600.6,333.2 L601.5,333.2 L602.4,333.4 L603.4,335.8 L604.3,334.1 L605.2,339.2 L606.1,333.2 L607.0,337.7 L607.9,337.3 L608.9,334.3 L609.8,335.2 L610.7,339.5 L611.6,335.8 L612.6,336.0 L613.5,331.2 L614.4,339.7 L615.4,340.2 L616.3,342.1 L617.2,344.8 L618.2,341.4 L619.1,340.8 L620.0,338.9 L621.0,339.7 L621.9,338.7 L622.9,339.6 L623.8,338.7 L624.7,335.6 L625.7,335.0 L626.6,338.6 L627.6,335.2 L628.5,341.7 L629.5,344.3 L630.4,343.8 L631.4,343.9 L632.3,343.8 L633.3,341.5 L634.2,341.6 L635.2,340.7 L636.2,344.0 L637.1,346.0 L638.1,348.2 L639.0,342.8 L640.0,344.2 L641.0,344.0 L641.9,345.6 L642.9,342.2 L643.8,346.2 L644.8,342.6 L645.8,338.9 L646.7,333.7 L647.7,337.1 L648.7,344.7 L649.6,343.9 L650.6,345.3 L651.6,346.2 L652.6,348.2 L653.5,345.7 L654.5,346.7 L655.5,348.0 L656.5,350.9 L657.4,354.6 L658.4,353.3 L659.4,354.0 L660.4,353.5 L661.3,356.5 L662.3,351.1 L663.3,350.7 L664.3,350.4 L665.3,351.8 L666.2,353.7 L667.2,356.1 L668.2,356.6 L669.2,360.7 L670.2,357.2 L671.2,357.1 L672.1,348.0 L673.1,350.8 L674.1,346.0 L675.1,345.8 L676.1,347.9 L677.1,351.8 L678.1,352.9 L679.1,360.0 L680.1,359.9 L681.0,361.5 L682.0,360.6 L683.0,357.2 L684.0,357.0 L685.0,356.6 L686.0,359.6 L687.0,357.7 L688.0,359.7 L689.0,361.8 L690.0,360.2 L691.0,368.3 L692.0,364.6 L693.0,367.1 L694.0,366.0 L695.0,364.8 L696.0,372.4 L697.0,369.0 L698.0,367.2 L699.0,368.7 L700.0,374.8 L701.0,366.5 L702.0,366.0 L703.0,372.5 L704.0,369.7 L705.0,360.3 L706.0,359.1 L707.0,358.2"/>
<path stroke-width="1.1" d="M436.8,366.5 L438.2,370.5 L439.3,359.9 L440.4,368.8 L441.5,373.1 L442.6,363.3 L443.6,368.7 L444.6,361.7 L445.7,371.0 L446.7,364.5 L447.7,372.2 L448.8,362.2 L449.8,368.9 L450.8,361.7 L451.8,367.0 L452.6,360.6 L453.2,364.0 L452.9,365.6 L453.0,365.5 L453.1,364.9 L453.2,363.7 L453.3,363.1 L453.4,363.1 L453.5,361.5 L453.6,361.2 L453.7,360.9 L453.8,359.8 L454.0,359.1 L454.1,358.2 L454.2,357.5 L454.3,357.0 L454.4,356.6 L454.5,356.1 L454.6,355.1 L454.7,355.0 L454.8,353.8 L454.9,352.8 L455.0,352.9 L455.1,351.6 L455.1,350.5 L455.2,350.2 L455.3,349.3 L455.4,349.1 L455.5,348.6 L455.6,347.7 L455.7,346.7 L455.8,346.0 L455.9,345.3 L456.0,344.9 L456.2,343.7 L456.3,343.0 L456.4,342.9 L456.6,342.0 L456.7,341.3 L456.8,340.9 L457.0,339.9 L457.1,339.3 L457.2,338.9 L457.3,337.9 L457.5,337.4 L457.6,336.8 L457.7,336.1 L457.9,336.2 L458.0,334.3 L458.1,333.8 L458.3,333.5 L458.4,332.2 L458.5,331.7 L458.6,330.5 L458.8,330.5 L458.9,330.1 L458.9,329.3 L459.0,328.3 L459.1,327.6 L459.1,326.7 L459.2,326.3 L459.3,325.3 L459.3,324.9 L459.4,323.6 L459.4,323.3 L459.5,321.8 L459.6,322.3 L459.6,321.9 L459.7,320.9 L459.8,321.3 L459.8,319.3 L459.9,318.5 L459.9,317.6 L460.0,316.8 L460.1,316.0 L460.1,315.1 L460.2,314.8 L460.2,315.2 L460.3,314.1 L460.3,313.7 L460.4,312.4 L460.5,312.1 L460.5,311.7 L460.6,310.6 L460.6,309.9 L460.7,309.1 L460.7,308.5 L460.8,308.2 L460.8,307.6 L460.9,305.8 L461.0,304.9 L461.0,304.8 L461.1,304.1 L461.1,303.8 L461.2,303.5 L461.2,302.4 L461.3,302.8 L461.3,301.3 L461.4,299.7 L461.4,299.9 L461.5,298.9 L461.5,298.1 L461.6,296.8 L461.6,296.7 L461.7,295.8 L461.7,294.9 L461.8,294.6 L461.8,294.1 L461.9,293.4 L461.9,292.9 L461.9,291.8 L462.0,291.9 L462.0,290.8 L462.1,290.5 L462.1,289.4 L462.2,288.1 L462.2,286.8 L462.3,286.8 L462.3,285.7 L462.4,285.4 L462.4,285.3 L462.5,283.8 L462.5,283.2 L462.6,283.4 L462.6,282.6 L462.7,281.4 L462.7,280.5 L462.8,279.4 L462.8,279.0 L462.9,278.0 L462.9,277.7 L463.0,277.2 L463.0,276.0 L463.1,275.8 L463.1,275.2 L463.2,275.0 L463.2,274.6 L463.3,273.3 L463.3,272.8 L463.4,272.0 L463.5,270.7 L463.5,270.2 L463.6,270.0 L463.6,269.5 L463.7,268.8 L463.8,268.4 L463.8,266.4 L463.9,266.0 L463.9,264.6 L464.0,264.2 L464.1,263.2 L464.1,263.6 L464.2,262.5 L464.3,261.2 L464.3,261.3 L464.4,261.1 L464.5,260.8 L464.5,260.1 L464.6,259.2 L464.7,258.4 L464.8,257.9 L464.8,257.3 L464.9,256.3 L465.0,255.3 L465.1,255.6 L465.1,254.2 L465.2,253.6 L465.3,253.2 L465.4,252.1 L465.5,252.1 L465.6,250.3 L465.6,250.3 L465.7,248.6 L465.8,248.0 L465.9,247.4 L466.0,247.5 L466.1,246.5 L466.2,245.6 L466.3,246.0 L466.4,244.3 L466.5,243.9 L466.6,243.4 L466.7,242.5 L466.8,242.0 L466.9,241.5 L467.0,240.3 L467.1,240.1 L467.2,238.5 L467.3,237.6 L467.5,237.4 L467.6,236.4 L467.7,236.5 L467.8,235.6 L467.9,234.7 L468.0,234.6 L468.2,234.0 L468.3,231.7 L468.4,232.4 L468.5,232.0 L468.6,231.4 L468.8,230.1 L468.9,229.2 L469.0,229.0 L469.1,228.5 L469.2,226.4 L469.4,225.8 L469.5,225.4 L469.6,223.6 L469.7,224.0 L469.9,223.9 L470.0,222.4 L470.1,222.4 L470.3,221.4 L470.4,221.4 L470.6,221.1 L470.8,220.7 L470.9,219.3 L471.1,219.1 L471.4,218.0 L471.6,216.8 L471.9,217.0 L472.2,215.6 L472.5,215.3 L472.8,215.9 L473.2,214.4 L473.6,213.2 L474.1,213.2 L474.6,212.3 L475.1,212.5 L475.7,211.8 L476.2,212.5 L476.9,211.6 L477.5,212.7 L478.1,212.6 L478.6,213.1 L479.1,214.3 L479.6,212.3 L480.0,212.9 L480.4,214.0 L480.7,214.9 L481.0,216.5 L481.3,216.8 L481.5,217.5 L481.8,217.7 L482.0,218.8 L482.1,219.3 L482.3,220.0 L482.5,219.9 L482.6,221.3 L482.8,222.5 L482.9,223.1 L483.0,223.1 L483.2,225.0 L483.3,225.6 L483.5,226.1 L483.7,225.8 L483.8,226.1 L484.0,228.0 L484.2,228.1 L484.4,228.7 L484.6,230.9 L484.8,231.5 L485.0,231.7 L485.2,232.7 L485.5,232.8 L485.7,232.0 L485.9,234.4 L486.1,234.5 L486.4,235.4 L486.6,236.7 L486.9,237.3 L487.1,238.5 L487.3,238.3 L487.6,238.5 L487.8,238.9 L488.0,241.0 L488.3,241.8 L488.5,244.5 L488.7,246.6 L489.0,248.3 L489.2,248.9 L489.4,251.1 L489.7,253.3 L489.9,251.1 L490.1,251.9 L490.3,249.7 L490.6,249.6 L490.8,247.0 L491.0,247.7 L491.2,248.4 L491.4,249.6 L491.6,250.6 L491.9,250.7 L492.1,249.9 L492.3,252.1 L492.5,252.4 L492.7,252.8 L492.9,254.3 L493.2,255.6 L493.4,255.0 L493.6,256.8 L493.8,257.8 L494.0,256.6 L494.2,259.9 L494.5,259.7 L494.7,258.9 L494.9,260.5 L495.1,260.2 L495.3,261.8 L495.5,262.2 L495.8,261.9 L496.0,263.5 L496.2,263.6 L496.4,263.4 L496.6,263.6 L496.9,265.1 L497.1,266.4 L497.3,270.5 L497.5,269.9 L497.8,273.4 L498.0,272.4 L498.2,271.6 L498.5,272.5 L498.7,270.9 L498.9,272.5 L499.2,272.3 L499.4,273.2 L499.7,273.4 L499.9,274.7 L500.2,276.1 L500.4,275.3 L500.7,276.2 L500.9,278.4 L501.2,277.1 L501.4,279.5 L501.7,278.8 L501.9,279.1 L502.2,279.1 L502.5,280.5 L502.8,280.6 L503.0,281.5 L503.3,284.3 L503.6,284.1 L503.9,284.2 L504.2,284.0 L504.5,285.2 L504.7,285.0 L505.0,285.5 L505.3,289.1 L505.7,287.7 L506.0,287.2 L506.3,288.8 L506.6,290.4 L506.9,288.8 L507.2,289.8 L507.6,289.1 L507.9,290.1 L508.2,294.1 L508.6,296.8 L508.9,292.6 L509.3,292.2 L509.6,295.8 L510.0,295.7 L510.3,296.4 L510.7,298.4 L511.1,296.1 L511.4,298.3 L511.8,300.3 L512.2,299.1 L512.6,300.4 L512.9,299.6 L513.3,300.7 L513.7,299.5 L514.1,296.7 L514.5,301.2 L514.9,299.0 L515.3,300.5 L515.7,300.6 L516.2,304.8 L516.6,303.3 L517.0,305.2 L517.4,308.9 L517.8,309.7 L518.3,309.1 L518.7,305.9 L519.1,310.4 L519.6,308.3 L520.0,307.5 L520.5,309.6 L520.9,308.0 L521.4,309.8 L521.8,313.1 L522.3,312.9 L522.8,311.2 L523.2,314.7 L523.7,314.1 L524.2,314.1 L524.6,309.6 L525.1,309.7 L525.6,311.2 L526.1,309.9 L526.6,311.3 L527.1,311.1 L527.5,310.1 L528.0,309.9 L528.5,310.8 L529.0,313.0 L529.5,312.1 L530.1,311.7 L530.6,316.5 L531.1,320.0 L531.6,320.0 L532.1,313.0 L532.6,316.8 L533.1,320.4 L533.7,320.0 L534.2,319.7 L534.7,319.9 L535.3,320.2 L535.8,318.9 L536.3,325.2 L536.9,321.7 L537.4,325.5 L538.0,329.6 L538.5,330.3 L539.1,328.6 L539.6,329.0 L540.2,329.0 L540.7,330.8 L541.3,331.7 L541.9,335.0 L542.4,332.1 L543.0,333.5 L543.6,333.4 L544.1,333.2 L544.7,332.7 L545.3,335.5 L545.9,336.2 L546.4,337.2 L547.0,338.4 L547.6,337.0 L548.2,344.2 L548.8,344.4 L549.4,341.4 L549.9,341.4 L550.5,340.3 L551.1,337.3 L551.7,340.5 L552.3,340.5 L552.9,340.1 L553.5,340.7 L554.1,334.0 L554.8,337.9 L555.4,335.0 L556.0,339.5 L556.6,340.3 L557.2,340.5 L557.8,338.4 L558.4,345.6 L559.0,340.3 L559.7,337.0 L560.3,341.4 L560.9,336.9 L561.5,345.1 L562.2,341.5 L562.8,343.3 L563.4,342.8 L564.0,341.7 L564.7,337.1 L565.3,340.0 L565.9,342.3 L566.6,341.0 L567.2,343.3 L567.9,342.2 L568.5,343.3 L569.1,346.4 L569.8,347.9 L570.4,346.0 L571.1,345.5 L571.7,343.6 L572.4,351.3 L573.0,344.9 L573.7,345.3 L574.3,344.6 L575.0,347.3 L575.6,343.8 L576.3,346.8 L576.9,347.6 L577.6,344.8 L578.2,348.5 L578.9,346.1 L579.6,346.9 L580.2,348.1 L580.9,345.6 L581.5,344.2 L582.2,346.4 L582.9,348.9 L583.5,349.3 L584.2,344.0 L584.9,344.7 L585.5,349.2 L586.2,347.6 L586.9,347.9 L587.5,347.9 L588.2,347.2 L588.9,345.2 L589.5,346.5 L590.2,348.7 L590.9,349.3 L591.6,348.9 L592.2,347.6 L592.9,350.5 L593.6,347.8 L594.3,348.9 L594.9,350.3 L595.6,349.4 L596.3,353.3 L596.9,353.4 L597.6,352.2 L598.3,352.5 L599.0,354.0 L599.7,351.6 L600.3,355.1 L601.0,352.8 L601.7,349.0 L602.4,349.8 L603.0,354.5 L603.7,351.2 L604.4,353.9 L605.1,353.0 L605.8,354.5 L606.4,350.1 L607.1,352.1 L607.8,351.4 L608.5,355.0 L609.1,356.2 L609.8,353.4 L610.5,353.0 L611.2,354.7 L611.9,349.8 L612.5,353.8 L613.2,353.2 L613.9,352.6 L614.6,352.0 L615.3,350.7 L615.9,354.4 L616.6,352.7 L617.3,350.5 L618.0,352.6 L618.7,349.2 L619.3,347.3 L620.0,347.1 L620.7,350.8 L621.4,350.5 L622.1,352.3 L622.7,349.1 L623.4,348.6 L624.1,346.4 L624.8,353.0 L625.5,352.8 L626.1,353.0 L626.8,353.5 L627.5,352.8 L628.2,351.9 L628.9,354.3 L629.6,349.6 L630.2,352.5 L630.9,353.2 L631.6,351.1 L632.3,349.8 L633.0,352.7 L633.7,354.6 L634.3,352.0 L635.0,356.6 L635.7,359.6 L636.4,359.9 L637.1,355.9 L637.8,356.8 L638.4,364.1 L639.1,365.8 L639.8,362.2 L640.5,364.5 L641.2,361.8 L641.9,362.3 L642.5,364.9 L643.2,360.8 L643.9,365.6 L644.6,368.6 L645.3,365.0 L646.0,371.1 L646.6,366.3 L647.3,369.8 L648.0,366.0 L648.7,368.3 L649.4,361.6 L650.1,358.9 L650.8,364.7 L651.4,358.6 L652.1,363.3 L652.8,359.6 L653.5,364.7 L654.2,361.9 L654.9,363.7 L655.6,362.3 L656.2,361.6 L656.9,359.2 L657.6,367.3 L658.3,364.8 L659.0,361.6 L659.7,363.4 L660.4,366.0 L661.1,361.1 L661.7,367.7 L662.4,363.1 L663.1,362.5 L663.8,365.9 L664.5,361.8 L665.2,359.0 L665.9,362.8 L666.6,361.0 L667.2,362.2 L667.9,359.5 L668.6,360.6 L669.3,363.8 L670.0,361.6 L670.7,358.2 L671.4,361.4 L672.1,362.8 L672.7,359.2 L673.4,365.8 L674.1,361.7 L674.8,362.6 L675.5,359.0 L676.2,361.3 L676.9,360.8 L677.6,362.7 L678.3,362.6 L678.9,365.1 L679.6,359.4 L680.3,364.6 L681.0,363.8 L681.7,361.6 L682.4,363.1 L683.1,360.9 L683.8,362.0 L684.5,361.1 L685.1,362.8 L685.8,361.8 L686.5,366.9 L687.2,366.4 L687.9,369.1 L688.6,365.5 L689.3,363.3 L690.0,365.8 L690.7,365.5 L691.4,364.4 L692.0,367.5 L692.7,368.7 L693.4,365.6 L694.1,364.7 L694.8,363.4 L695.5,370.0 L696.2,370.0 L696.9,376.7 L697.6,369.8 L698.2,368.6 L698.9,360.0 L699.6,365.3 L700.3,367.9 L701.0,371.1 L701.7,368.5 L702.4,362.4 L703.1,368.7 L703.8,365.4 L704.5,372.4 L705.1,369.3 L705.8,366.4 L706.5,368.5 L707.2,365.2"/>
<path stroke-width="1.9" d="M97.9,367.0 L98.3,363.7 L98.6,360.3 L99.0,357.0 L99.3,353.7 L99.6,350.3 L99.9,347.0 L100.2,343.6 L100.4,340.3 L100.7,337.0 L100.9,333.6 L101.1,330.3 L101.3,326.9 L101.5,323.6 L101.7,320.3 L101.9,316.9 L102.0,313.6 L102.2,310.2 L102.3,306.9 L102.5,303.5 L102.6,300.2 L102.7,296.9 L102.8,293.5 L102.9,290.2 L103.0,286.8 L103.1,283.5 L103.2,280.1 L103.3,276.8 L103.3,273.4 L103.4,270.1 L103.5,266.7 L103.6,263.4 L103.6,260.0 L103.7,256.7 L103.8,253.3 L103.8,250.0 L103.9,246.6 L104.0,243.3 L104.1,239.9 L104.2,236.6 L104.2,233.2 L104.3,229.9 L104.4,226.5 L104.5,223.2 L104.6,219.8 L104.7,216.5 L104.8,213.1 L104.9,209.8 L105.0,206.4 L105.1,203.1 L105.3,199.7 L105.4,196.4 L105.5,193.0 L105.6,189.7 L105.7,186.3 L105.9,183.0 L106.0,179.6 L106.1,176.3 L106.3,173.0 L106.4,169.6 L106.6,166.3 L106.7,162.9 L106.8,159.6 L107.0,156.2 L107.1,152.9 L107.3,149.5 L107.4,146.2 L107.6,142.8 L107.7,139.5 L107.9,136.1 L108.1,132.8 L108.2,129.5 L108.4,126.1 L108.5,122.8 L108.7,119.4 L108.9,116.1 L109.0,112.8 L109.2,109.4 L109.4,106.1 L109.6,102.7 L109.7,99.4 L109.9,96.1 L110.1,92.7 L110.3,89.4 L110.4,86.1 L110.6,82.7 L110.8,79.4 L111.0,76.1 L111.3,72.7 L111.5,69.4 L111.8,66.0 L112.2,62.7 L112.5,59.3 L113.0,55.9 L113.5,52.6 L114.0,49.2 L114.6,45.8 L115.3,42.4 L116.8,39.6 L118.6,40.5 L120.0,43.4 L121.2,46.5 L122.1,49.7 L122.9,53.0 L123.6,56.3 L124.2,59.7 L124.7,63.1 L125.1,66.5 L125.6,69.8 L126.0,73.2 L126.4,76.5 L126.7,79.8 L127.1,83.1 L127.5,86.4 L127.9,89.7 L128.3,93.0 L128.7,96.3 L129.1,99.6 L129.6,102.9 L130.0,106.3 L130.5,109.6 L131.0,112.9 L131.5,116.2 L131.9,119.5 L132.5,122.8 L133.0,126.1 L133.5,129.5 L134.0,132.8 L134.5,136.1 L135.1,139.4 L135.6,142.7 L136.1,146.0 L136.6,149.3 L137.2,152.7 L137.7,156.0 L138.2,159.3 L138.8,162.6 L139.3,165.9 L139.8,169.2 L140.4,172.5 L140.9,175.8 L141.5,179.1 L142.1,182.4 L142.7,185.7 L143.3,189.0 L143.9,192.2 L144.6,195.5 L145.2,198.8 L145.9,202.1 L146.6,205.3 L147.4,208.6 L148.1,211.9 L148.9,215.1 L149.7,218.4 L150.6,221.6 L151.4,224.9 L152.3,228.1 L153.2,231.4 L154.2,234.6 L155.1,237.8 L156.1,241.0 L157.0,244.2 L158.0,247.4 L159.1,250.5 L160.3,253.6 L161.7,256.7 L163.2,259.7 L164.8,262.6 L166.5,265.5 L168.2,268.4 L170.0,271.3 L171.8,274.1 L173.5,277.0 L175.3,279.9 L177.1,282.7 L178.9,285.5 L180.8,288.2 L182.8,291.0 L184.8,293.6 L186.8,296.2 L189.0,298.8 L191.2,301.3 L193.4,303.8 L195.7,306.2 L198.1,308.6 L200.5,310.9 L202.9,313.2 L205.4,315.5 L207.9,317.8 L210.4,320.0 L213.0,322.2 L215.6,324.3 L218.2,326.4 L220.9,328.5 L223.6,330.5 L226.3,332.4 L229.1,334.3 L231.9,336.1 L234.7,337.9 L237.6,339.6 L240.5,341.2 L243.5,342.7 L246.5,344.2 L249.5,345.5 L252.6,346.8 L255.7,348.0 L258.9,349.1 L262.1,350.1 L265.3,351.0 L268.6,351.9 L271.8,352.9 L275.0,353.8 L278.3,354.8 L281.5,355.7 L284.7,356.7 L287.9,357.6 L291.1,358.4 L294.4,359.2 L297.6,360.0 L300.9,360.7 L304.2,361.3 L307.5,362.0 L310.8,362.5 L314.1,363.1 L317.4,363.5 L320.7,364.0 L324.0,364.4 L327.4,364.8 L330.7,365.1 L334.1,365.4 L337.4,365.7 L340.7,366.0 L344.1,366.2 L347.4,366.4"/>
<path stroke-width="1.9" d="M98.0,367.0 L98.3,364.8 L98.6,362.6 L98.8,360.4 L99.1,358.1 L99.3,355.9 L99.5,353.7 L99.7,351.5 L99.9,349.3 L100.1,347.1 L100.3,344.8 L100.5,342.6 L100.6,340.4 L100.8,338.2 L100.9,336.0 L101.1,333.7 L101.2,331.5 L101.3,329.3 L101.4,327.1 L101.5,324.8 L101.6,322.6 L101.8,320.4 L101.8,318.2 L101.9,315.9 L102.0,313.7 L102.1,311.5 L102.2,309.3 L102.3,307.0 L102.4,304.8 L102.4,302.6 L102.5,300.4 L102.6,298.1 L102.7,295.9 L102.7,293.7 L102.8,291.5 L102.9,289.2 L103.0,287.0 L103.0,284.8 L103.1,282.6 L103.2,280.3 L103.3,278.1 L103.4,275.9 L103.5,273.7 L103.6,271.4 L103.7,269.2 L103.8,267.0 L103.9,264.7 L104.1,262.5 L104.2,260.3 L104.3,258.1 L104.4,255.9 L104.6,253.6 L104.7,251.4 L104.9,249.2 L105.0,247.0 L105.1,244.7 L105.3,242.5 L105.4,240.3 L105.6,238.1 L105.7,235.9 L105.9,233.6 L106.0,231.4 L106.2,229.2 L106.3,227.0 L106.5,224.8 L106.7,222.6 L106.9,220.3 L107.1,218.1 L107.3,215.9 L107.5,213.7 L107.7,211.5 L108.0,209.2 L108.3,207.0 L108.6,204.8 L108.9,202.6 L109.5,200.4 L110.2,198.3 L111.2,196.3 L112.6,196.7 L113.6,198.7 L114.1,200.9 L114.6,203.0 L115.0,205.2 L115.4,207.4 L115.8,209.6 L116.2,211.8 L116.6,214.0 L117.0,216.2 L117.4,218.4 L117.8,220.6 L118.2,222.8 L118.5,225.0 L118.9,227.2 L119.3,229.4 L119.6,231.6 L120.0,233.8 L120.3,236.0 L120.7,238.2 L121.1,240.4 L121.4,242.5 L121.8,244.7 L122.1,246.9 L122.4,249.1 L122.8,251.3 L123.1,253.4 L123.5,255.6 L123.8,257.8 L124.1,260.0 L124.5,262.2 L124.8,264.4 L125.1,266.6 L125.4,268.9 L125.8,271.1 L126.1,273.3 L126.4,275.6 L126.8,277.8 L127.1,280.1 L127.5,282.3 L127.9,284.6 L128.3,286.8 L128.7,289.0 L129.2,291.2 L129.7,293.4 L130.3,295.6 L130.9,297.7 L131.5,299.8 L132.2,301.9 L133.0,304.0 L133.8,306.0 L134.7,308.0 L135.6,310.0 L136.7,311.9 L137.8,313.8 L138.9,315.6 L140.2,317.4 L141.5,319.1 L143.0,320.8 L144.4,322.5 L146.0,324.1 L147.5,325.7 L149.2,327.2 L150.8,328.7 L152.5,330.2 L154.2,331.7 L156.0,333.1 L157.8,334.5 L159.6,335.8 L161.5,337.1 L163.3,338.4 L165.2,339.7 L167.1,340.9 L169.0,342.1 L171.0,343.2 L173.0,344.3 L174.9,345.4 L176.9,346.4 L178.9,347.4 L180.9,348.4 L182.9,349.4 L184.9,350.3 L187.0,351.2 L189.0,352.0 L191.1,352.8 L193.1,353.6 L195.2,354.4 L197.3,355.1 L199.4,355.8 L201.5,356.5 L203.6,357.1 L205.7,357.8 L207.8,358.4 L209.9,358.9 L212.1,359.5 L214.2,360.0 L216.4,360.5 L218.5,361.0 L220.7,361.4 L222.8,361.8 L225.0,362.2 L227.2,362.6 L229.4,363.0 L231.6,363.3 L233.7,363.6 L235.9,364.0 L238.2,364.2 L240.4,364.5 L242.6,364.8 L244.8,365.0 L247.0,365.2 L249.2,365.4 L251.5,365.6 L253.7,365.8 L255.9,365.9 L258.2,366.1 L260.4,366.2 L262.6,366.3 L264.9,366.4 L267.1,366.5 L269.4,366.6 L271.6,366.7 L273.9,366.8 L276.1,366.8 L278.4,366.9 L280.6,366.9 L282.9,366.9 L285.1,366.9 L287.4,367.0 L289.6,367.0 L291.9,367.0 L294.1,367.0 L296.4,367.0 L298.6,367.0 L300.9,367.0 L303.1,367.0 L305.4,366.9 L307.6,366.9 L309.8,366.9 L312.1,366.9 L314.3,366.9 L316.6,366.9 L318.8,366.8 L321.0,366.8 L323.2,366.8 L325.4,366.8 L327.7,366.8 L329.9,366.8 L332.1,366.8 L334.3,366.8 L336.5,366.8 L338.7,366.8 L340.9,366.9 L343.1,366.9 L345.2,367.0 L347.4,367.0"/>
<path stroke-width="1.9" d="M454.7,366.0 L455.1,363.0 L455.5,360.0 L455.9,357.0 L456.3,354.1 L456.7,351.1 L457.0,348.1 L457.3,345.1 L457.7,342.1 L458.0,339.1 L458.3,336.1 L458.6,333.1 L458.9,330.1 L459.2,327.1 L459.5,324.1 L459.7,321.1 L460.0,318.1 L460.2,315.1 L460.5,312.1 L460.7,309.1 L460.9,306.1 L461.2,303.1 L461.4,300.1 L461.6,297.1 L461.8,294.1 L462.0,291.1 L462.3,288.1 L462.5,285.1 L462.7,282.1 L462.9,279.1 L463.1,276.1 L463.3,273.1 L463.5,270.1 L463.7,267.1 L463.8,264.1 L464.0,261.1 L464.2,258.1 L464.4,255.1 L464.6,252.1 L464.8,249.1 L465.0,246.1 L465.2,243.1 L465.4,240.1 L465.6,237.1 L465.8,234.0 L465.9,231.0 L466.1,228.0 L466.3,225.0 L466.5,222.0 L466.7,219.0 L466.9,216.0 L467.1,213.0 L467.3,210.0 L467.4,207.0 L467.6,204.0 L467.8,201.0 L468.0,198.0 L468.2,195.0 L468.4,192.0 L468.6,189.0 L468.8,186.0 L469.0,183.0 L469.2,180.0 L469.4,177.0 L469.6,174.0 L469.8,171.0 L470.0,168.0 L470.2,165.0 L470.4,162.0 L470.6,159.0 L470.8,156.0 L471.0,153.0 L471.3,150.0 L471.5,147.0 L471.8,144.0 L472.0,141.0 L472.3,138.0 L472.6,135.0 L472.9,132.0 L473.2,129.0 L473.5,126.0 L473.8,123.0 L474.1,120.0 L474.5,117.0 L474.8,114.0 L475.2,111.0 L475.6,108.0 L476.0,105.0 L476.4,102.0 L476.8,99.0 L477.3,96.0 L477.9,93.1 L478.8,90.2 L479.9,87.4 L481.3,84.8 L483.2,82.6 L485.4,83.1 L487.1,85.5 L488.4,88.3 L489.4,91.3 L490.3,94.3 L491.2,97.2 L492.0,100.1 L492.8,103.1 L493.6,106.0 L494.3,108.9 L495.0,111.8 L495.7,114.7 L496.4,117.6 L497.1,120.5 L497.7,123.4 L498.4,126.3 L499.1,129.2 L499.7,132.2 L500.4,135.1 L501.0,138.0 L501.6,141.0 L502.3,143.9 L502.9,146.9 L503.5,149.8 L504.1,152.8 L504.7,155.7 L505.3,158.7 L505.9,161.7 L506.5,164.6 L507.1,167.6 L507.7,170.5 L508.3,173.5 L508.8,176.5 L509.4,179.4 L509.9,182.4 L510.5,185.3 L511.0,188.3 L511.6,191.2 L512.3,194.2 L513.0,197.1 L513.8,200.0 L514.6,202.9 L515.6,205.7 L516.5,208.6 L517.5,211.4 L518.5,214.3 L519.5,217.1 L520.4,220.0 L521.2,222.9 L522.0,225.8 L522.8,228.7 L523.7,231.6 L524.6,234.4 L525.6,237.3 L526.8,240.1 L528.0,242.8 L529.2,245.6 L530.4,248.3 L531.6,251.1 L532.7,253.9 L533.8,256.7 L534.9,259.5 L536.0,262.3 L537.2,265.1 L538.3,267.9 L539.6,270.6 L540.9,273.3 L542.2,276.0 L543.7,278.6 L545.3,281.2 L546.9,283.7 L548.5,286.3 L550.2,288.8 L552.0,291.2 L553.7,293.7 L555.5,296.1 L557.3,298.5 L559.1,300.9 L561.0,303.3 L562.9,305.6 L564.9,307.8 L566.9,310.1 L569.0,312.2 L571.1,314.4 L573.3,316.5 L575.5,318.5 L577.9,320.4 L580.2,322.3 L582.6,324.1 L585.1,325.8 L587.6,327.4 L590.2,328.9 L592.8,330.4 L595.5,331.8 L598.2,333.1 L600.9,334.4 L603.7,335.7 L606.4,336.9 L609.2,338.2 L611.9,339.3 L614.7,340.5 L617.5,341.6 L620.3,342.7 L623.2,343.7 L626.0,344.8 L628.8,345.8 L631.7,346.7 L634.5,347.7 L637.4,348.6 L640.3,349.5 L643.2,350.3 L646.1,351.1 L649.0,351.9 L651.9,352.7 L654.8,353.4 L657.7,354.1 L660.7,354.8 L663.6,355.5 L666.5,356.1 L669.5,356.7 L672.4,357.2 L675.4,357.8 L678.4,358.3 L681.3,358.8 L684.3,359.2 L687.3,359.6 L690.3,360.0 L693.3,360.4 L696.3,360.7 L699.3,361.0 L702.3,361.3 L705.3,361.6 L708.3,361.8 L711.3,362.0 L714.3,362.2 L717.3,362.3 L720.3,362.4 L723.3,362.5"/>
<path stroke-width="1.9" d="M454.9,366.0 L455.2,363.9 L455.4,361.9 L455.7,359.8 L456.0,357.8 L456.2,355.7 L456.5,353.7 L456.7,351.6 L456.9,349.5 L457.2,347.5 L457.4,345.4 L457.6,343.4 L457.9,341.3 L458.1,339.3 L458.3,337.2 L458.5,335.2 L458.7,333.1 L458.9,331.0 L459.1,329.0 L459.3,326.9 L459.5,324.9 L459.7,322.8 L459.9,320.8 L460.1,318.7 L460.3,316.6 L460.4,314.6 L460.6,312.5 L460.8,310.5 L460.9,308.4 L461.1,306.3 L461.3,304.3 L461.4,302.2 L461.6,300.1 L461.7,298.1 L461.9,296.0 L462.0,293.9 L462.1,291.8 L462.3,289.8 L462.4,287.7 L462.6,285.6 L462.7,283.5 L462.9,281.5 L463.0,279.4 L463.2,277.3 L463.3,275.3 L463.5,273.2 L463.7,271.1 L463.8,269.1 L464.0,267.0 L464.2,264.9 L464.4,262.9 L464.6,260.8 L464.8,258.8 L465.0,256.7 L465.3,254.7 L465.5,252.6 L465.8,250.6 L466.0,248.5 L466.3,246.5 L466.6,244.5 L466.9,242.5 L467.2,240.4 L467.5,238.4 L467.9,236.4 L468.2,234.3 L468.6,232.3 L469.0,230.2 L469.3,228.2 L469.7,226.1 L470.1,224.0 L470.5,221.9 L471.0,219.8 L471.6,217.8 L472.4,215.9 L473.4,214.2 L474.8,212.7 L476.4,211.9 L478.3,212.6 L479.8,214.0 L480.9,215.6 L481.7,217.4 L482.3,219.4 L482.8,221.5 L483.2,223.7 L483.7,225.8 L484.2,227.8 L484.8,229.8 L485.4,231.8 L486.1,233.8 L486.8,235.7 L487.5,237.6 L488.2,239.5 L488.9,241.5 L489.6,243.4 L490.3,245.3 L491.0,247.3 L491.6,249.2 L492.3,251.2 L492.9,253.2 L493.6,255.1 L494.2,257.1 L494.9,259.1 L495.5,261.0 L496.2,263.0 L496.8,265.0 L497.5,266.9 L498.2,268.9 L498.9,270.8 L499.6,272.8 L500.4,274.7 L501.1,276.6 L501.9,278.6 L502.7,280.5 L503.5,282.4 L504.4,284.2 L505.2,286.1 L506.2,288.0 L507.1,289.8 L508.1,291.6 L509.1,293.4 L510.2,295.2 L511.3,297.0 L512.4,298.7 L513.5,300.4 L514.7,302.1 L515.9,303.8 L517.2,305.5 L518.5,307.1 L519.8,308.7 L521.1,310.3 L522.5,311.9 L523.9,313.4 L525.3,314.9 L526.8,316.4 L528.2,317.9 L529.7,319.3 L531.3,320.7 L532.8,322.1 L534.4,323.4 L536.0,324.8 L537.6,326.1 L539.3,327.3 L540.9,328.6 L542.6,329.8 L544.3,330.9 L546.1,332.1 L547.8,333.2 L549.6,334.2 L551.3,335.3 L553.1,336.3 L555.0,337.2 L556.8,338.2 L558.6,339.1 L560.5,340.0 L562.4,340.8 L564.2,341.7 L566.1,342.5 L568.1,343.3 L570.0,344.0 L571.9,344.7 L573.9,345.4 L575.8,346.1 L577.8,346.8 L579.8,347.4 L581.7,348.0 L583.7,348.6 L585.7,349.2 L587.7,349.7 L589.7,350.3 L591.8,350.8 L593.8,351.3 L595.8,351.8 L597.8,352.2 L599.9,352.7 L601.9,353.1 L603.9,353.5 L606.0,354.0 L608.0,354.4 L610.0,354.7 L612.1,355.1 L614.1,355.5 L616.1,355.8 L618.2,356.2 L620.2,356.5 L622.3,356.8 L624.3,357.2 L626.3,357.5 L628.4,357.8 L630.4,358.1 L632.5,358.4 L634.5,358.6 L636.6,358.9 L638.6,359.2 L640.7,359.4 L642.7,359.7 L644.8,360.0 L646.8,360.2 L648.9,360.4 L651.0,360.7 L653.0,360.9 L655.1,361.1 L657.1,361.4 L659.2,361.6 L661.3,361.8 L663.3,362.0 L665.4,362.2 L667.4,362.3 L669.5,362.5 L671.6,362.7 L673.6,362.8 L675.7,363.0 L677.8,363.1 L679.8,363.3 L681.9,363.4 L684.0,363.5 L686.0,363.7 L688.1,363.8 L690.2,363.9 L692.2,363.9 L694.3,364.0 L696.4,364.1 L698.4,364.2 L700.5,364.2 L702.6,364.3 L704.7,364.3 L706.7,364.3 L708.8,364.3 L710.9,364.4 L712.9,364.4 L715.0,364.3 L717.1,364.3 L719.2,364.3 L721.2,364.3 L723.3,364.2"/>
</g>
<g font-family="'Liberation Sans', sans-serif" font-weight="bold" fill="#000">
<text transform="translate(82.2,18.8) scale(1,1.07)" font-size="19" text-anchor="end">0.35</text>
<text transform="translate(82.2,69.4) scale(1,1.07)" font-size="19" text-anchor="end">0.3</text>
<text transform="translate(82.2,120.1) scale(1,1.07)" font-size="19" text-anchor="end">0.25</text>
<text transform="translate(82.2,170.8) scale(1,1.07)" font-size="19" text-anchor="end">0.2</text>
<text transform="translate(82.2,221.4) scale(1,1.07)" font-size="19" text-anchor="end">0.15</text>
<text transform="translate(82.2,272.1) scale(1,1.07)" font-size="19" text-anchor="end">0.1</text>
<text transform="translate(82.2,322.8) scale(1,1.07)" font-size="19" text-anchor="end">0.05</text>
<text transform="translate(82.2,424.1) scale(1,1.07)" font-size="19" text-anchor="end">-0.05</text>
<text transform="translate(436.5,16.8) scale(1,1.07)" font-size="19" text-anchor="end">0.3</text>
<text transform="translate(436.5,75.9) scale(1,1.07)" font-size="19" text-anchor="end">0.25</text>
<text transform="translate(436.5,136.0) scale(1,1.07)" font-size="19" text-anchor="end">0.2</text>
<text transform="translate(436.5,194.8) scale(1,1.07)" font-size="19" text-anchor="end">0.15</text>
<text transform="translate(436.5,253.7) scale(1,1.07)" font-size="19" text-anchor="end">0.1</text>
<text transform="translate(436.5,312.7) scale(1,1.07)" font-size="19" text-anchor="end">0.05</text>
<text transform="translate(436.5,431.5) scale(1,1.07)" font-size="19" text-anchor="end">-0.05</text>
<text transform="translate(46.0,406.9) scale(1,1.08)" font-size="20.5" text-anchor="middle">-2</text>
<text transform="translate(147.2,406.9) scale(1,1.08)" font-size="20.5" text-anchor="middle">2</text>
<text transform="translate(197.2,406.9) scale(1,1.08)" font-size="20.5" text-anchor="middle">4</text>
<text transform="translate(247.3,406.9) scale(1,1.08)" font-size="20.5" text-anchor="middle">6</text>
<text transform="translate(297.4,406.9) scale(1,1.08)" font-size="20.5" text-anchor="middle">8</text>
<text transform="translate(347.8,406.9) scale(1,1.08)" font-size="20.5" text-anchor="middle">10</text>
<text transform="translate(393.8,404.8) scale(1,1.1)" font-size="19.9" text-anchor="middle">-2</text>
<text transform="translate(509.1,404.8) scale(1,1.1)" font-size="19.9" text-anchor="middle">2</text>
<text transform="translate(565.9,404.8) scale(1,1.1)" font-size="19.9" text-anchor="middle">4</text>
<text transform="translate(622.7,404.8) scale(1,1.1)" font-size="19.9" text-anchor="middle">6</text>
<text transform="translate(680.9,404.8) scale(1,1.1)" font-size="19.9" text-anchor="middle">8</text>
<text transform="translate(738.1,404.8) scale(1,1.1)" font-size="19.9" text-anchor="middle">10</text>
<text transform="translate(184.2,24.6) scale(1,1.07)" font-size="18.9" text-anchor="start">Cell 1</text>
<text transform="translate(537.0,22.9) scale(1,1.07)" font-size="19.1" text-anchor="start">Cell 2</text>
<text x="144" y="108.8" font-size="22.8">forskolin</text>
<text x="519.8" y="140.5" font-size="22.8">forskolin</text>
<text x="104.5" y="360.8" font-size="22.7">norm</text>
<text x="466.5" y="340" font-size="22.8">norm</text>
<text x="161.8" y="461.1" font-size="21.4">time, s</text>
<text transform="translate(17.8,323.6) rotate(-90)" font-size="21.8">normalized response</text>
</g>
</svg>
</body></html>
